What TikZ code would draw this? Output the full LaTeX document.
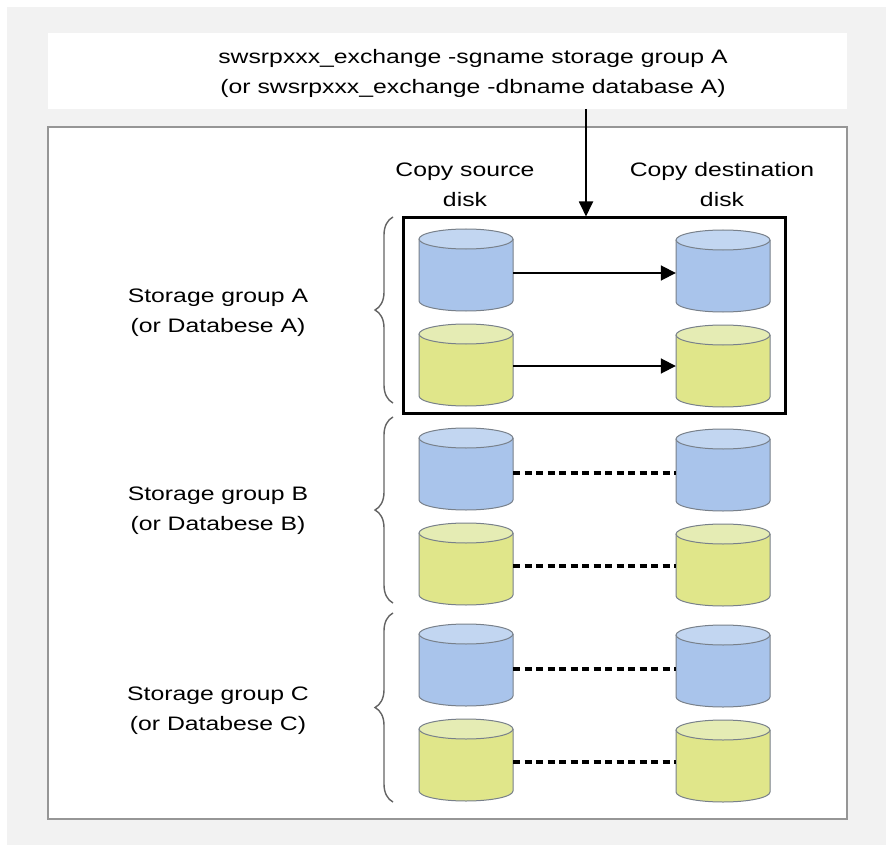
\documentclass[tikz,border=0pt]{standalone}
\usepackage{fontspec}
\setmainfont{Liberation Sans}[FakeStretch=1.27]
\usetikzlibrary{arrows.meta,decorations.pathreplacing}
\definecolor{bgGray}{RGB}{242,242,242}
\definecolor{panelLine}{RGB}{150,150,150}
\definecolor{blueBody}{RGB}{169,196,235}
\definecolor{blueTop}{RGB}{194,214,241}
\definecolor{yelBody}{RGB}{224,230,138}
\definecolor{yelTop}{RGB}{229,236,180}
\definecolor{diskLine}{RGB}{120,128,138}
\definecolor{braceCol}{RGB}{100,100,100}

% #1 node name, #2 x, #3 y (centre), #4 colour prefix
\newcommand\mydisk[4]{%
  \fill[#4Body] (#2-47,#3-31) -- (#2-47,#3+31)
     arc[start angle=180,end angle=0,x radius=47,y radius=10] -- (#2+47,#3-31) -- cycle;
  \draw[diskline] (#2-47,#3-31) -- (#2-47,#3+31)
     arc[start angle=180,end angle=0,x radius=47,y radius=10] -- (#2+47,#3-31);
  \draw[diskline,fill=#4Top] (#2,#3-31) ellipse[x radius=47,y radius=10];
  \node[diskbox] (#1) at (#2,#3) {};
}

\begin{document}
\begin{tikzpicture}[x=1pt,y=-1pt,
  lbl/.style={font=\fontsize{19.5}{30}\selectfont,align=center,inner sep=0pt},
  hdrbox/.style={fill=white,draw=none,minimum width=799pt,minimum height=76pt,inner sep=0pt},
  panel/.style={fill=white,draw=panelLine,line width=1.6pt,minimum width=799pt,minimum height=692pt,inner sep=0pt},
  selbox/.style={draw=black,line width=3pt,minimum width=382pt,minimum height=195pt,inner sep=0pt},
  diskbox/.style={draw=none,minimum width=94pt,minimum height=82pt,inner sep=0pt},
  diskline/.style={draw=diskLine,line width=1pt},
  copyarrow/.style={draw=black,line width=1.8pt,-{Triangle[length=15pt,width=15pt]}},
  cmdarrow/.style={draw=black,line width=1.8pt,-{Triangle[length=15pt,width=14pt]}},
  nocopy/.style={draw=black,line width=4pt,dash pattern=on 7pt off 4.5pt},
  grpbrace/.style={draw=braceCol,line width=1.4pt,decorate,decoration={brace,amplitude=18pt}}
]
\useasboundingbox (0,0) rectangle (886,845);
\fill[bgGray] (7,7) rectangle (886,845);

\node[hdrbox] (hdr) at (447.5,71) {};
\node[lbl] (hdrtext) at (473,73) {swsrpxxx\_exchange -sgname storage group A\\(or swsrpxxx\_exchange -dbname database A)};

\node[panel] (main) at (447.5,473) {};

\node[lbl] (srcL) at (465,185) {Copy source\\disk};
\node[lbl] (dstL) at (722,185) {Copy destination\\disk};

\node[selbox] (sel) at (594,315.5) {};
\coordinate (cmdpt) at (586,109);
\draw[cmdarrow] (cmdpt) -- (cmdpt |- sel.north);

% group A
\mydisk{a1}{466}{270}{blue}
\mydisk{b1}{723}{271}{blue}
\mydisk{a2}{466}{365}{yel}
\mydisk{b2}{723}{366}{yel}
% group B
\mydisk{a3}{466}{469}{blue}
\mydisk{b3}{723}{470}{blue}
\mydisk{a4}{466}{564}{yel}
\mydisk{b4}{723}{565}{yel}
% group C
\mydisk{a5}{466}{665}{blue}
\mydisk{b5}{723}{666}{blue}
\mydisk{a6}{466}{760}{yel}
\mydisk{b6}{723}{761}{yel}

\draw[copyarrow] ([yshift=-3pt]a1.east) -- ([yshift=-3pt]a1.east -| b1.west);
\draw[copyarrow] ([yshift=-1pt]a2.east) -- ([yshift=-1pt]a2.east -| b2.west);
\draw[nocopy] ([yshift=-4pt]a3.east) -- ([yshift=-4pt]a3.east -| b3.west);
\draw[nocopy] ([yshift=-2pt]a4.east) -- ([yshift=-2pt]a4.east -| b4.west);
\draw[nocopy] ([yshift=-4pt]a5.east) -- ([yshift=-4pt]a5.east -| b5.west);
\draw[nocopy] ([yshift=-2pt]a6.east) -- ([yshift=-2pt]a6.east -| b6.west);

\draw[grpbrace] (393,403) -- (393,217);
\draw[grpbrace] (393,603) -- (393,417);
\draw[grpbrace] (393,802) -- (393,613);

\node[lbl] (gA) at (218,313) {Storage group A\\(or Databese A)};
\node[lbl] (gB) at (218,511) {Storage group B\\(or Databese B)};
\node[lbl] (gC) at (218,711) {Storage group C\\(or Databese C)};
\end{tikzpicture}
\end{document}
